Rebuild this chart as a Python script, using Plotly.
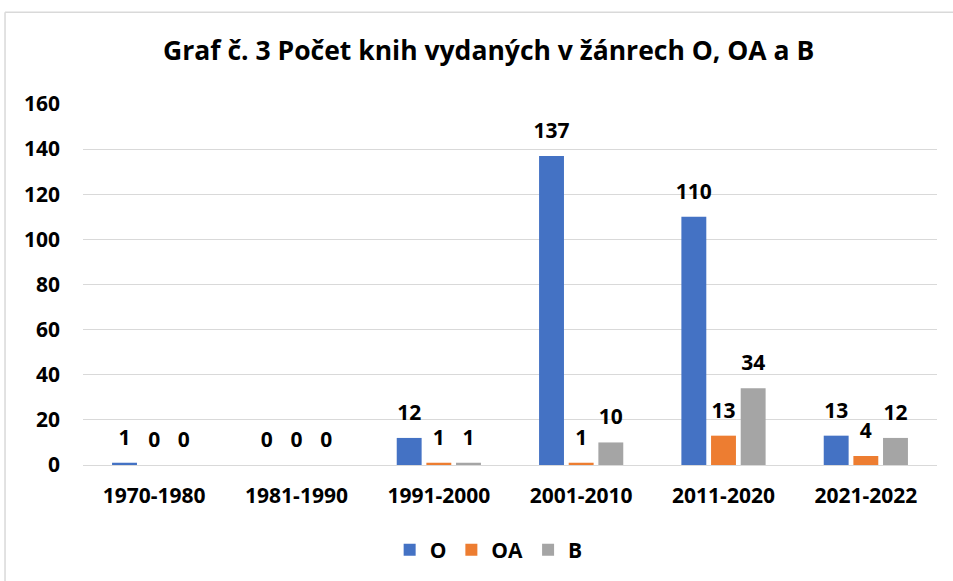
import plotly.graph_objects as go

categories = ["1970-1980", "1981-1990", "1991-2000", "2001-2010", "2011-2020", "2021-2022"]
o_values = [1, 0, 12, 137, 110, 13]
oa_values = [0, 0, 1, 1, 13, 4]
b_values = [0, 0, 1, 10, 34, 12]
y_ticks = [0, 20, 40, 60, 80, 100, 120, 140, 160]

font_family = "'Open Sans', sans-serif"
label_pad = 4  # gap (in axis units) between bar top and its value label

fig = go.Figure()

series = [
    ("O", o_values, "#4472C4"),
    ("OA", oa_values, "#ED7D31"),
    ("B", b_values, "#A5A5A5"),
]
for name, vals, color in series:
    # the real bars
    fig.add_trace(go.Bar(
        x=categories,
        y=vals,
        name=name,
        offsetgroup=name,
        marker_color=color,
        marker_line_width=0,
    ))
    # transparent bars sitting on top, only to carry the value labels
    fig.add_trace(go.Bar(
        x=categories,
        y=[label_pad] * len(vals),
        base=vals,
        offsetgroup=name,
        marker=dict(color="rgba(0,0,0,0)", line=dict(width=0)),
        text=vals,
        texttemplate="%{text}",
        textposition="outside",
        constraintext="none",
        cliponaxis=False,
        textfont=dict(size=21, color="#000000", family=font_family, weight="bold"),
        showlegend=False,
        hoverinfo="skip",
    ))

# chart frame lines (top and left, as in the original)
fig.add_shape(type="line", xref="paper", yref="paper",
              x0=-0.0913, x1=1.05, y0=1.254, y1=1.254,
              line=dict(color="#d9d9d9", width=1.5))
fig.add_shape(type="line", xref="paper", yref="paper",
              x0=-0.0913, x1=-0.0913, y0=1.254, y1=-0.35,
              line=dict(color="#d9d9d9", width=1.5))

fig.update_layout(
    width=953,
    height=581,
    title=dict(
        text="Graf č. 3 Počet knih vydaných v žánrech O, OA a B",
        x=0.475, xref="paper", xanchor="center",
        y=0.912, yref="container", yanchor="middle",
        font=dict(size=26.5, color="#000000", family=font_family, weight="bold"),
    ),
    barmode="group",
    bargap=0.375,
    bargroupgap=0.16,
    plot_bgcolor="white",
    paper_bgcolor="white",
    margin=dict(l=83, r=16, t=104, b=115),
    showlegend=True,
    legend=dict(
        orientation="h",
        x=0.475, xanchor="center",
        y=-0.232, yanchor="middle",
        font=dict(size=21, color="#000000", family=font_family, weight="bold"),
        itemwidth=30,
        traceorder="normal",
    ),
)

fig.update_yaxes(
    range=[0, 160],
    tickvals=y_ticks,
    showgrid=True,
    gridcolor="#d9d9d9",
    gridwidth=1,
    zeroline=True,
    zerolinecolor="#d9d9d9",
    zerolinewidth=1,
    tickfont=dict(size=21, color="#000000", family=font_family, weight="bold"),
    ticks="",
    ticklabelstandoff=22,
)
fig.update_xaxes(
    showline=False,
    tickfont=dict(size=21, color="#000000", family=font_family, weight="bold"),
    ticks="outside",
    ticklen=12,
    tickcolor="white",
)

fig.write_html("out.html", config={"displayModeBar": False},
               post_script="document.body.style.margin='0px';")
